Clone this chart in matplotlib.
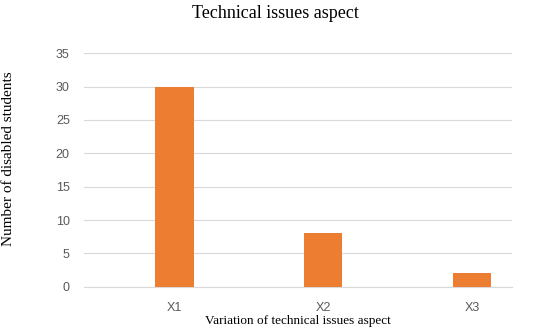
import numpy as np
import matplotlib.pyplot as plt

# data
categories = ['X1', 'X2', 'X3']
counts = [30, 8, 2]

plt.rcParams['font.family'] = ['Liberation Serif', 'DejaVu Serif']

fig = plt.figure(figsize=(5.5, 3.33), dpi=100)
ax = fig.add_axes([0.152, 0.139, 0.779, 0.701])

x = np.arange(len(categories))
ax.bar(x, counts, width=0.26, color='#ED7D31', zorder=3)

ax.set_xlim(-0.61, 2.27)
ax.set_ylim(0, 35)
ax.set_yticks(range(0, 36, 5))
ax.set_xticks(x)
ax.set_xticklabels(categories)
ax.grid(axis='y', color='#D9D9D9', linewidth=0.8, zorder=0)
for s in ['top', 'right', 'left']:
    ax.spines[s].set_visible(False)
ax.spines['bottom'].set_color('#D9D9D9')
ax.tick_params(length=0, labelsize=9, colors='#595959', pad=10)
for lab in ax.get_xticklabels() + ax.get_yticklabels():
    lab.set_family(['Liberation Sans', 'DejaVu Sans'])
ax.tick_params(axis='x', pad=11)

ax.set_xlabel('Variation of technical issues aspect', fontsize=9.5, labelpad=1)
ax.set_ylabel('Number of disabled students', fontsize=11)
ax.yaxis.set_label_coords(-0.16, 0.55)
fig.suptitle('Technical issues aspect', fontsize=13, y=0.985)

plt.savefig('out.png', dpi=100)
